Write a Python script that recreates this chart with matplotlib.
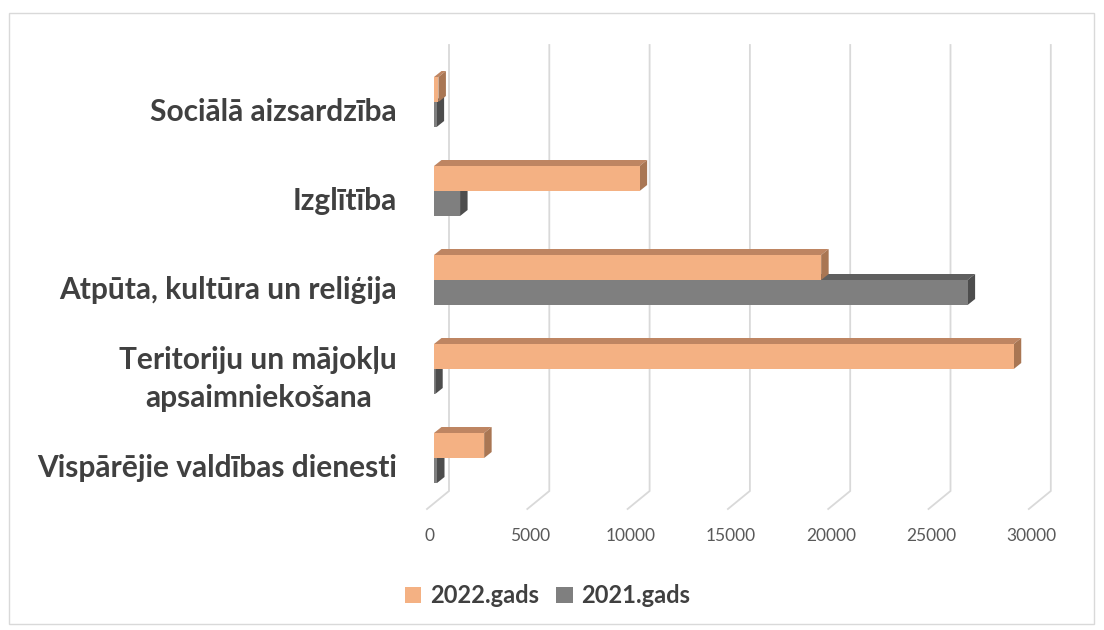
import numpy as np
import matplotlib.pyplot as plt
from matplotlib.patches import Polygon, Rectangle

categories = ['Vispārējie valdības dienesti',
              'Teritoriju un mājokļu\napsaimniekošana',
              'Atpūta, kultūra un reliģija',
              'Izglītība',
              'Sociālā aizsardzība']
values_2022 = [2500, 28900, 19300, 10250, 220]
values_2021 = [150, 60, 26600, 1300, 130]
series_names = ['2022.gads', '2021.gads']
ticks = [0, 5000, 10000, 15000, 20000, 25000, 30000]

plt.rcParams['font.family'] = ['Lato', 'DejaVu Sans']

fig = plt.figure(figsize=(11.04, 6.3), dpi=100)
ax = fig.add_axes([0, 0, 1, 1])

# pixel geometry of the fake 3D frame
ppu = 100.3 / 5000      # pixels per value unit
row = 89.0              # pixels per category
x0, y0 = 434, 458       # pixel of value 0 / first category baseline
ax.set_xlim(-x0 / ppu, (1104 - x0) / ppu)
ax.set_ylim((y0 - 630) / row, y0 / row)
ax.axis('off')

back = 15 / ppu         # back wall shift
front = -7 / ppu        # floor front shift
y_top = (y0 - 45) / row
y_wall = (y0 - 491) / row
y_floor = (y0 - 509) / row

for t in ticks:
    ax.plot([t + back, t + back, t + front], [y_top, y_wall, y_floor],
            color='#d9d9d9', lw=1.3, zorder=1, solid_joinstyle='miter')
    ax.text(t - 200, (y0 - 536) / row, str(t), ha='center', va='center',
            fontsize=12.5, color='#595959')

h = 25 / row
dx = 7.5 / ppu
dy = 6 / row
orange = ('#F4B183', '#BE8562', '#A97653')
gray = ('#7F7F7F', '#5F5F5F', '#4D4D4D')


def bar3d(v, bottom, cols, label=None):
    top = bottom + h
    ax.add_patch(Polygon([(0, top), (v, top), (v + dx, top + dy), (dx, top + dy)],
                         closed=True, fc=cols[1], ec='none', zorder=2))
    ax.add_patch(Polygon([(v, bottom), (v, top), (v + dx, top + dy), (v + dx, bottom + dy)],
                         closed=True, fc=cols[2], ec='none', zorder=2))
    r = Rectangle((0, bottom), v, h, fc=cols[0], ec='none', zorder=2, label=label)
    ax.add_patch(r)
    return r


handles = {}
for i, cat in enumerate(categories):
    handles[1] = bar3d(values_2021[i], i - h, gray, series_names[1])
    handles[0] = bar3d(values_2022[i], i, orange, series_names[0])
    ax.text(-37 / ppu, i - 10 / row, cat, ha='right', va='center',
            fontsize=21.5, fontweight='bold', color='#404040',
            multialignment='center', linespacing=1.45)

fig.legend([handles[0], handles[1]], series_names, loc='center',
           bbox_to_anchor=(0.496, 0.054), ncol=2, frameon=False,
           prop={'weight': 'bold', 'size': 17}, labelcolor='#404040',
           handlelength=0.7, handleheight=0.7, handletextpad=0.35,
           columnspacing=0.75)

fig.patches.append(Rectangle((0.008, 0.01), 0.983, 0.97, transform=fig.transFigure,
                             fill=False, ec='#d9d9d9', lw=1))

fig.savefig('out.png', dpi=100)
